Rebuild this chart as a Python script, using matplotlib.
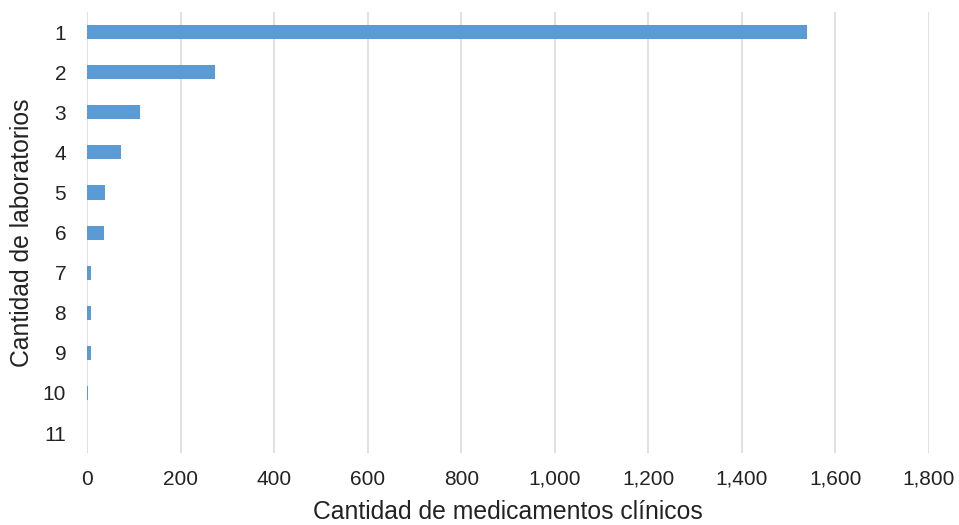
import matplotlib.pyplot as plt

# labs count vs number of clinical drugs
labs = ['1', '2', '3', '4', '5', '6', '7', '8', '9', '10', '11']
meds = [1540, 273, 114, 72, 38, 36, 9, 8, 9, 2, 1]
xticks = [0, 200, 400, 600, 800, 1000, 1200, 1400, 1600, 1800]

plt.rcParams['font.family'] = ['Liberation Sans', 'DejaVu Sans']

fig = plt.figure(figsize=(9.59, 5.25), dpi=100)
ax = fig.add_axes([0.0907, 0.137, 0.878, 0.84])

ax.barh(range(len(labs)), meds, height=0.35, color='#5B9BD5', zorder=3)
ax.set_ylim(len(labs) - 0.5, -0.5)
ax.set_xlim(0, 1800)
ax.set_yticks(range(len(labs)))
ax.set_yticklabels(labs)
ax.set_xticks(xticks)
ax.set_xticklabels([f'{v:,}' for v in xticks])
ax.tick_params(length=0, labelsize=15, colors='#222222')
ax.tick_params(axis='x', pad=12)
ax.tick_params(axis='y', pad=15)
ax.grid(axis='x', color='#dedede', linewidth=1.3, zorder=0)
for s in ax.spines.values():
    s.set_visible(False)

ax.set_xlabel('Cantidad de medicamentos clínicos', fontsize=17.8, color='#222222', labelpad=8)
ax.set_ylabel('Cantidad de laboratorios', fontsize=17.8, color='#222222', labelpad=6)

fig.savefig('out.png', dpi=100)
